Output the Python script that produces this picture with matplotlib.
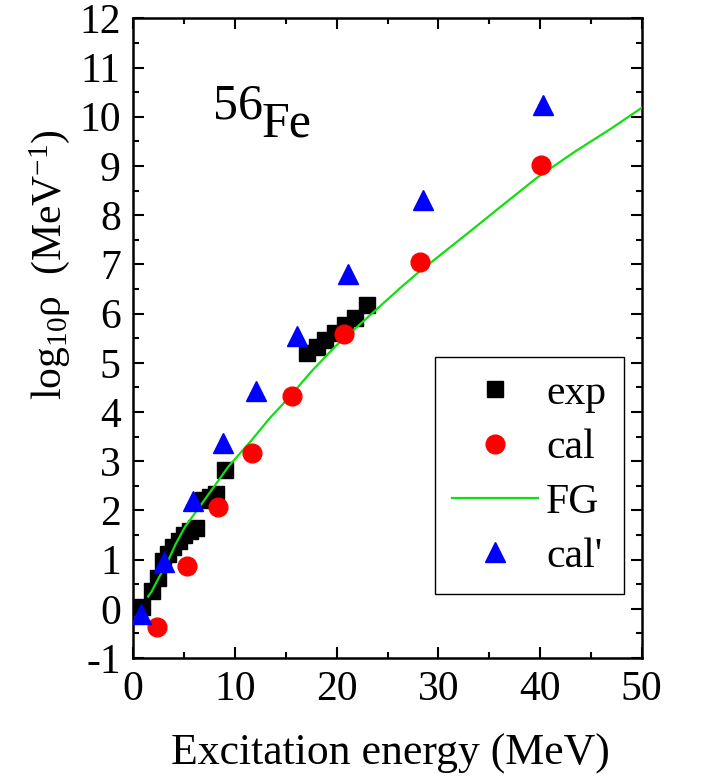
import numpy as np
import matplotlib
matplotlib.use("Agg")
import matplotlib.pyplot as plt
from matplotlib.ticker import MultipleLocator

plt.rcParams.update({
    'font.family': 'Liberation Serif',
    'mathtext.fontset': 'custom',
    'mathtext.rm': 'Liberation Serif',
    'mathtext.it': 'Liberation Serif:italic',
    'mathtext.default': 'regular',
    'axes.unicode_minus': False,
    'font.size': 30,
})

# data
exp_e = [0.85, 1.8, 2.45, 2.95, 3.45, 3.95, 4.45, 4.95, 5.55, 6.2,
         6.9, 7.5, 8.1, 9.0,
         17.05, 18.05, 18.85, 19.85, 20.8, 21.8, 22.95]
exp_rho = [0.03, 0.36, 0.62, 0.98, 1.12, 1.25, 1.38, 1.5, 1.58, 1.64,
           2.22, 2.28, 2.33, 2.82,
           5.19, 5.32, 5.46, 5.6, 5.76, 5.9, 6.18]

cal_e = [2.3, 5.25, 8.3, 11.65, 15.6, 20.7, 28.15, 40.1]
cal_rho = [-0.36, 0.88, 2.07, 3.17, 4.32, 5.58, 7.05, 9.02]

calp_e = [0.75, 3.05, 5.9, 8.85, 12.1, 16.05, 21.15, 28.5, 40.3]
calp_rho = [-0.1, 0.96, 2.2, 3.36, 4.43, 5.55, 6.8, 8.3, 10.24]

fg_e = [1.45, 1.8, 2.3, 2.95, 3.45, 4.2, 5.1, 6.75, 9.35, 11.65, 13.4,
        15.25, 17.5, 19.85, 24.0, 26.2, 28.0, 33.0, 36.3, 39.7, 43.5,
        47.0, 50.0]
fg_rho = [0.25, 0.35, 0.55, 0.8, 0.99, 1.33, 1.67, 2.14, 2.89, 3.43, 3.87,
          4.28, 4.82, 5.33, 6.1, 6.51, 6.83, 7.65, 8.2, 8.76, 9.3,
          9.76, 10.18]

fig = plt.figure(figsize=(7.02, 7.79), dpi=100)
ax = fig.add_axes([0.1899, 0.1553, 0.7242, 0.8212])

ax.plot(exp_e, exp_rho, ls='none', marker='s', ms=12, color='black',
        zorder=2, label='exp')
ax.plot(cal_e, cal_rho, ls='none', marker='o', ms=13.5, color='#ff0000',
        zorder=4, label='cal')
ax.plot(fg_e, fg_rho, color='#10e010', lw=1.6, zorder=3, label='FG')
ax.plot(calp_e, calp_rho, ls='none', marker='^', ms=14.5, color='#0000ff',
        zorder=5, label="cal'")

ax.set_xlim(0, 50)
ax.set_ylim(-1, 12)
ax.xaxis.set_major_locator(MultipleLocator(10))
ax.xaxis.set_minor_locator(MultipleLocator(5))
ax.yaxis.set_major_locator(MultipleLocator(1))
ax.yaxis.set_minor_locator(MultipleLocator(0.5))
ax.tick_params(which='both', direction='in', top=True, right=True, width=1.5)
ax.tick_params(which='major', length=8, labelsize=30, pad=9)
ax.tick_params(which='minor', length=4.5)
for s in ax.spines.values():
    s.set_linewidth(1.8)

ax.set_xlabel("Excitation energy (MeV)", fontsize=31.5)
ax.xaxis.set_label_coords(0.506, -0.118)
ax.set_ylabel(r"log$_{10}$ρ  (MeV$^{-1}$)", fontsize=30)
ax.yaxis.set_label_coords(-0.12, 0.615)

ax.text(0.157, 0.8435, "56", transform=ax.transAxes, fontsize=36, va='baseline')
ax.text(0.253, 0.815, "Fe", transform=ax.transAxes, fontsize=36, va='baseline')

leg = ax.legend(loc='upper left', bbox_to_anchor=(0.593, 0.4705),
                borderaxespad=0, fancybox=False, framealpha=1,
                edgecolor='black', fontsize=30, handlelength=2.05,
                handletextpad=0.2, borderpad=0.42, labelspacing=0.38)
leg.get_frame().set_linewidth(1.0)

fig.savefig("out.png", dpi=100)
